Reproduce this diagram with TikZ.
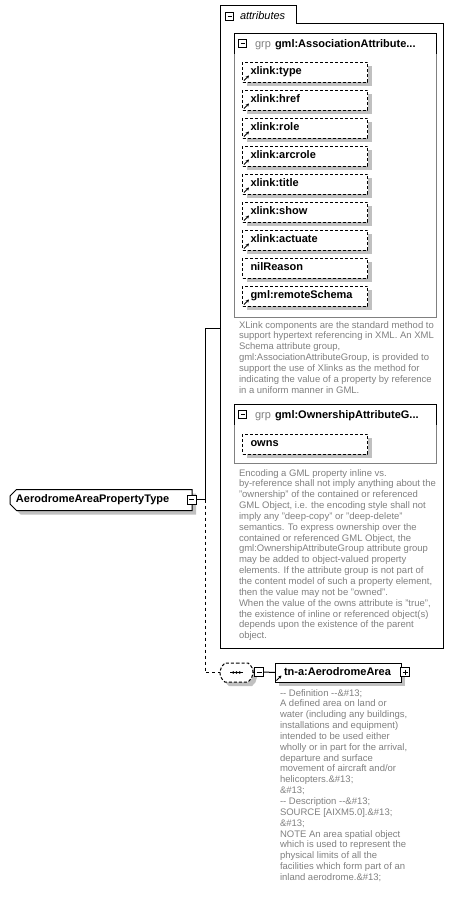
\documentclass[tikz,border=0pt]{standalone}
\usepackage{fontspec}
\setmainfont{Liberation Sans}
\usetikzlibrary{shapes.misc,shadows,arrows.meta}
\definecolor{lgray}{RGB}{128,128,128}
\definecolor{shgray}{RGB}{192,192,192}
\definecolor{txtgray}{RGB}{128,128,128}
\newcommand{\boldfont}{\fontsize{11}{13}\selectfont\bfseries}
\newcommand{\descfont}{\fontsize{9.5}{10.85}\selectfont}
\begin{document}
\begin{tikzpicture}[x=1pt,y=-1pt,line width=1pt,
  every node/.style={inner sep=0pt,outer sep=0pt},
  shd/.style={general shadow={fill=shgray,shadow xshift=4pt,shadow yshift=-4pt}},
  attrbox/.style={shd,draw,fill=white,dash pattern=on 3pt off 2pt,
    minimum width=125pt,minimum height=20pt,anchor=north west,
    text width=109pt,align=left,inner xsep=8pt,text height=8pt,text depth=2.5pt,
    font=\boldfont},
  refarrow/.style={-{Stealth[length=3pt,width=3.2pt]},line width=0.9pt},
  minusbox/.style={draw,fill=white,line width=0.8pt,minimum size=#1,
    path picture={\draw[line width=0.8pt] ([xshift=2pt]path picture bounding box.west) -- ([xshift=-2pt]path picture bounding box.east);}},
  minusbox/.default=9pt,
  plusbox/.style={minusbox=#1,
    path picture={\draw[line width=0.8pt] ([xshift=2pt]path picture bounding box.west) -- ([xshift=-2pt]path picture bounding box.east);
      \draw[line width=0.8pt] ([yshift=-2pt]path picture bounding box.north) -- ([yshift=2pt]path picture bounding box.south);}},
  plusbox/.default=9pt,
  grpbox/.style={draw=lgray,anchor=north west,minimum width=202pt},
  desc/.style={anchor=north west,align=left,text=txtgray,font=\descfont},
  hdrgrp/.style={anchor=base west,text=lgray,font=\fontsize{11}{13}\selectfont},
  hdrname/.style={anchor=base west,font=\boldfont},
  conn/.style={line width=1pt},
  dconn/.style={line width=1pt,dash pattern=on 3pt off 3pt}
]
\useasboundingbox (0,0) rectangle (454,903);

% attributes container
\draw (220.5,648.5) -- (220.5,5.5) -- (296.5,5.5) -- (296.5,23.5) -- (443.5,23.5) -- (443.5,648.5) -- cycle;
\node[minusbox=8pt] (attrminus) at (229.5,16) {};
\node[anchor=base west,font=\fontsize{11}{13}\selectfont\itshape] (attrlabel) at (240,19.5) {attributes};

% Association attribute group
\node[grpbox,minimum height=284pt] (assoc) at (234.5,33.5) {};
\draw ([yshift=-20pt]assoc.north west) -- (assoc.north west) -- (assoc.north east) -- ([yshift=-20pt]assoc.north east);
\node[minusbox=8pt] (assocminus) at (242.5,43) {};
\node[hdrgrp] (assocgrp) at (255,47) {grp};
\node[hdrname] (assocname) at (275,47) {gml:AssociationAttribute...};

\node[attrbox] (a1) at (242.5,62) {xlink:type};
\node[attrbox] (a2) at (242.5,90) {xlink:href};
\node[attrbox] (a3) at (242.5,118) {xlink:role};
\node[attrbox] (a4) at (242.5,146) {xlink:arcrole};
\node[attrbox] (a5) at (242.5,174) {xlink:title};
\node[attrbox] (a6) at (242.5,202) {xlink:show};
\node[attrbox] (a7) at (242.5,230) {xlink:actuate};
\node[attrbox] (a8) at (242.5,258) {nilReason};
\node[attrbox] (a9) at (242.5,286) {gml:remoteSchema};
\foreach \n in {a1,a2,a3,a4,a5,a6,a7,a9}
  \draw[refarrow] ([shift={(1.5,-1.5)}]\n.south west) -- ++(5,-5);

\node[desc] (assocdesc) at (239,320.4) {\strut XLink components are the standard method to\\
support hypertext referencing in XML. An XML\\
Schema attribute group,\\
gml:AssociationAttributeGroup, is provided to\\
support the use of Xlinks as the method for\\
indicating the value of a property by reference\\
in a uniform manner in GML.};

% Ownership attribute group
\node[grpbox,minimum height=59pt] (own) at (234.5,404.5) {};
\draw ([yshift=-20pt]own.north west) -- (own.north west) -- (own.north east) -- ([yshift=-20pt]own.north east);
\node[minusbox=8pt] (ownminus) at (242.5,414.5) {};
\node[hdrgrp] (owngrp) at (255,418.5) {grp};
\node[hdrname] (ownname) at (275,418.5) {gml:OwnershipAttributeG...};
\node[attrbox] (owns) at (242.5,434) {owns};

\node[desc] (owndesc) at (239,468.4) {\strut Encoding a GML property inline vs.\\
by-reference shall not imply anything about the\\
"ownership" of the contained or referenced\\
GML Object, i.e. the encoding style shall not\\
imply any "deep-copy" or "deep-delete"\\
semantics. To express ownership over the\\
contained or referenced GML Object, the\\
gml:OwnershipAttributeGroup attribute group\\
may be added to object-valued property\\
elements. If the attribute group is not part of\\
the content model of such a property element,\\
then the value may not be "owned".\\
When the value of the owns attribute is "true",\\
the existence of inline or referenced object(s)\\
depends upon the existence of the parent\\
object.};

% root
\node[shd,draw,fill=white,chamfered rectangle,chamfered rectangle corners={north west,south west},
  chamfered rectangle xsep=3pt,minimum width=182pt,minimum height=21pt,anchor=west,
  text width=170pt,align=left,text height=8pt,text depth=2.5pt,font=\boldfont] (root) at (10,500) {AerodromeAreaPropertyType};
\node[minusbox=9pt] (rootminus) at (191.5,499.5) {};

% sequence and element
\node[shd,draw,fill=white,dash pattern=on 3pt off 2pt,rounded rectangle,rounded rectangle arc length=110,
  minimum width=33pt,minimum height=19pt] (seq) at (236.5,672.5) {};
\draw[line width=1pt] ([xshift=-6.5pt]seq.center) -- ([xshift=6.5pt]seq.center);
\foreach \dx in {-3.2,0,3.2} \fill ([xshift=\dx pt]seq.center) circle (1.4pt);
\node[minusbox=9pt] (seqminus) at (259,672) {};
\node[shd,draw,fill=white,minimum width=126pt,minimum height=19pt,anchor=west,
  text width=108pt,align=left,inner xsep=9pt,text height=8pt,text depth=2.5pt,font=\boldfont] (elem) at (275,672.5) {tn-a:AerodromeArea};
\draw[refarrow] ([shift={(1.5,-1.5)}]elem.south west) -- ++(5,-5);
\node[plusbox=9pt] (elemplus) at (405,672) {};

\node[desc] (elemdesc) at (280,688.4) {\strut -{}- Definition -{}-\&\#13;\\
A defined area on land or\\
water (including any buildings,\\
installations and equipment)\\
intended to be used either\\
wholly or in part for the arrival,\\
departure and surface\\
movement of aircraft and/or\\
helicopters.\&\#13;\\
\&\#13;\\
-{}- Description -{}-\&\#13;\\
SOURCE [AIXM5.0].\&\#13;\\
\&\#13;\\
NOTE An area spatial object\\
which is used to represent the\\
physical limits of all the\\
facilities which form part of an\\
inland aerodrome.\&\#13;};

% connectors
\coordinate (j) at (205,499.5);
\coordinate (attrin) at (220.5,328);
\draw[conn] (rootminus.east) -- (j);
\draw[conn] (j) |- (attrin);
\draw[dconn] (j) |- (seq.west);
\draw[conn] (seq.east) -- (seqminus.west);
\draw[conn] (seqminus.east) -- (elem.west);
\end{tikzpicture}
\end{document}
